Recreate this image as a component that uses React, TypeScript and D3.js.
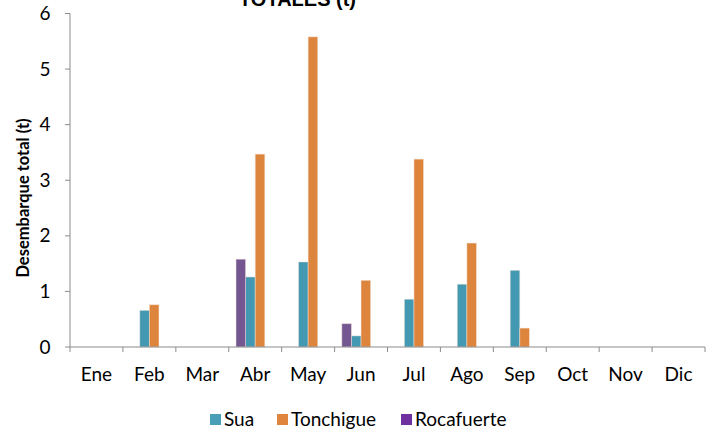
import { useEffect, useRef } from "react";
import * as d3 from "d3";

const months = ["Ene", "Feb", "Mar", "Abr", "May", "Jun", "Jul", "Ago", "Sep", "Oct", "Nov", "Dic"];
const sua = [0, 0.66, 0, 1.26, 1.53, 0.2, 0.86, 1.13, 1.38, 0, 0, 0];
const tonchigue = [0, 0.76, 0, 3.47, 5.58, 1.2, 3.38, 1.87, 0.34, 0, 0, 0];
const rocafuerte = [0, 0, 0, 1.58, 0, 0.42, 0, 0, 0, 0, 0, 0];
const yTicks = [0, 1, 2, 3, 4, 5, 6];

// bar slot order inside each month (4th slot is empty in the original)
const slots = ["Rocafuerte", "Sua", "Tonchigue", "_"];
const series = [
  { name: "Sua", values: sua, color: "#4399B2", legend: "#4A9FB8" },
  { name: "Tonchigue", values: tonchigue, color: "#DE853D", legend: "#E0853D" },
  { name: "Rocafuerte", values: rocafuerte, color: "#745791", legend: "#7030A0" },
];

const W = 714;
const H = 432;

const App = () => {
  const svgRef = useRef<SVGSVGElement>(null);

  useEffect(() => {
    if (!svgRef.current) return;
    const svg = d3.select(svgRef.current);
    svg.selectAll("*").remove();

    const left = 70, right = 705, top = 13.5, bottom = 347;
    const tickFont = "Lato, 'Open Sans', sans-serif";

    const x0 = d3.scaleBand<string>().domain(months).range([left, right]).paddingInner(0).paddingOuter(0);
    const x1 = d3.scaleBand<string>().domain(slots).range([0, x0.bandwidth()]).paddingInner(0).paddingOuter(0.755);
    const y = d3.scaleLinear().domain([0, 6]).range([bottom, top]);

    // title (clipped at the top like the original)
    svg.append("text")
      .attr("x", 297.5)
      .attr("y", 5.5)
      .attr("text-anchor", "middle")
      .attr("font-family", "'Liberation Sans', Arial, sans-serif")
      .attr("font-weight", 700)
      .attr("font-size", 20)
      .attr("fill", "#000")
      .text("TOTALES (t)");

    // y axis
    const axisColor = "#8c8c8c";
    svg.append("line")
      .attr("x1", left).attr("x2", left)
      .attr("y1", y(6)).attr("y2", bottom)
      .attr("stroke", axisColor).attr("stroke-width", 1);
    const yt = svg.append("g").selectAll("g").data(yTicks).enter().append("g");
    yt.append("line")
      .attr("x1", left - 5).attr("x2", left)
      .attr("y1", (d) => y(d)).attr("y2", (d) => y(d))
      .attr("stroke", axisColor);
    yt.append("text")
      .attr("x", 50.5)
      .attr("y", (d) => y(d) + 6.5)
      .attr("text-anchor", "end")
      .attr("font-family", tickFont)
      .attr("font-size", 19)
      .attr("fill", "#000")
      .text((d) => d);

    svg.append("text")
      .attr("transform", `translate(29,198) rotate(-90)`)
      .attr("text-anchor", "middle")
      .attr("font-family", tickFont)
      .attr("font-weight", 700)
      .attr("font-size", 16.5)
      .attr("fill", "#000")
      .text("Desembarque total (t)");

    // bars
    const bars = svg.append("g");
    series.forEach((s) => {
      bars.selectAll(null)
        .data(s.values.map((v, i) => ({ month: months[i], v })).filter((d) => d.v > 0))
        .enter()
        .append("rect")
        .attr("x", (d) => (x0(d.month) as number) + (x1(s.name) as number))
        .attr("width", x1.bandwidth())
        .attr("y", (d) => y(d.v))
        .attr("height", (d) => bottom - y(d.v))
        .attr("fill", s.color)
        .attr("stroke", "#f4e6dc")
        .attr("stroke-opacity", 0.6)
        .attr("stroke-width", 0.8);
    });

    // x axis
    svg.append("line")
      .attr("x1", left).attr("x2", right)
      .attr("y1", bottom).attr("y2", bottom)
      .attr("stroke", axisColor).attr("stroke-width", 1.2);
    const bounds = months.map((m) => x0(m) as number).concat([right]);
    svg.append("g").selectAll("line").data(bounds).enter().append("line")
      .attr("x1", (d) => d).attr("x2", (d) => d)
      .attr("y1", bottom).attr("y2", bottom + 5)
      .attr("stroke", axisColor);
    svg.append("g").selectAll("text").data(months).enter().append("text")
      .attr("x", (d) => (x0(d) as number) + x0.bandwidth() / 2)
      .attr("y", 380.5)
      .attr("text-anchor", "middle")
      .attr("font-family", tickFont)
      .attr("font-size", 19)
      .attr("fill", "#000")
      .text((d) => d);

    // legend
    const legendX = [210, 277, 401];
    const lg = svg.append("g").selectAll("g").data(series).enter().append("g")
      .attr("transform", (_d, i) => `translate(${legendX[i]},414)`);
    lg.append("rect").attr("width", 11).attr("height", 11).attr("fill", (d) => d.legend);
    lg.append("text")
      .attr("x", 14)
      .attr("y", 12)
      .attr("font-family", tickFont)
      .attr("font-size", 19)
      .attr("fill", "#000")
      .text((d) => d.name);
  }, []);

  return (
    <svg
      ref={svgRef}
      width={W}
      height={H}
      style={{ position: "absolute", left: 0, top: 0, background: "#fff" }}
    />
  );
};

export default App;
